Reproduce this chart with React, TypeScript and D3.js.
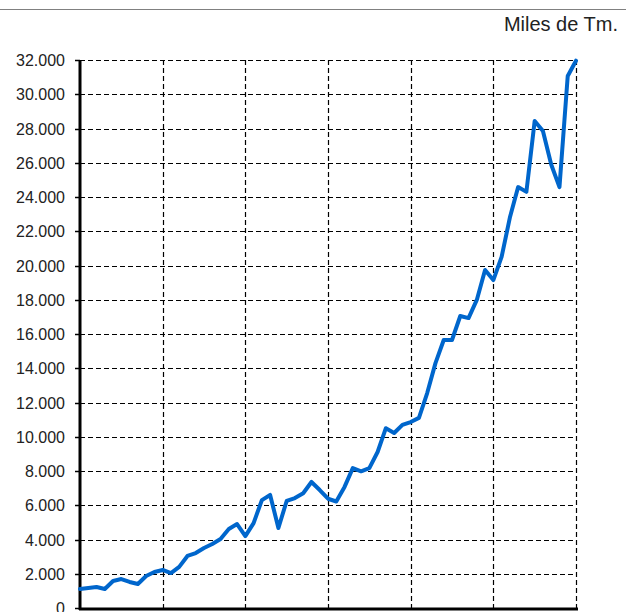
import React from "react";
import * as d3 from "d3";

const values: number[] = [
  1110, 1170, 1230, 1110, 1580, 1690, 1520, 1400, 1870, 2100,
  2220, 2040, 2400, 3040, 3210, 3500, 3740, 4030, 4610, 4900,
  4200, 4960, 6300, 6600, 4670, 6250, 6420, 6700, 7360, 6890,
  6380, 6220, 7070, 8170, 7980, 8170, 9110, 10500, 10220, 10690,
  10860, 11100, 12550, 14300, 15650, 15650, 17050, 16930, 17990, 19740,
  19150, 20500, 22800, 24580, 24300, 28440, 27850, 25900, 24580, 31070,
  31960,
];
const yTicks: number[] = d3.range(0, 32001, 2000);
const xGridCount = 6;
const unitLabel = "Miles de Tm.";

const fmt = (v: number) => {
  const s = String(v);
  return s.length > 3 ? s.slice(0, s.length - 3) + "." + s.slice(-3) : s;
};

export default function App() {
  const W = 632;
  const H = 612;
  const left = 80;
  const right = 576;
  const top = 60;
  const bottom = 608;
  const x = d3.scaleLinear().domain([0, values.length - 1]).range([left, right]);
  const y = d3.scaleLinear().domain([0, 32000]).range([bottom, top]);
  const line = d3
    .line<number>()
    .x((_, i) => x(i))
    .y((d) => y(d));
  const xGrid = d3.range(0, xGridCount + 1).map((k) => (k * (values.length - 1)) / xGridCount);

  return (
    <svg
      width={W}
      height={H}
      style={{ position: "absolute", left: 0, top: 0, background: "#fff" }}
    >
      <rect x={0} y={0} width={W} height={H} fill="#fff" />
      <line x1={0} x2={626} y1={9.5} y2={9.5} stroke="#808080" strokeWidth={1.2} />
      <text
        x={618}
        y={31}
        textAnchor="end"
        fontFamily="'Liberation Sans Narrow', 'Arial Narrow', 'Liberation Sans', Arial, sans-serif"
        fontSize={20}
        fill="#222"
      >
        {unitLabel}
      </text>
      {yTicks.map((t) => (
        <g key={t}>
          {t > 0 && (
            <line
              x1={left}
              x2={right}
              y1={Math.round(y(t)) + 0.5}
              y2={Math.round(y(t)) + 0.5}
              stroke="#000"
              strokeWidth={1.2}
              strokeDasharray="5,3"
            />
          )}
          <line x1={left - 5} x2={left} y1={Math.round(y(t)) + 0.5} y2={Math.round(y(t)) + 0.5} stroke="#000" strokeWidth={1.5} />
          <text
            x={65}
            y={y(t) + 6}
            textAnchor="end"
            fontFamily="'Liberation Sans', Arial, sans-serif"
            fontSize={16}
            fill="#222"
          >
            {fmt(t)}
          </text>
        </g>
      ))}
      {xGrid.slice(1).map((g) => (
        <line
          key={g}
          x1={Math.round(x(g)) + 0.5}
          x2={Math.round(x(g)) + 0.5}
          y1={top}
          y2={bottom}
          stroke="#000"
          strokeWidth={1.2}
          strokeDasharray="5,3"
        />
      ))}
      <line x1={left} x2={left} y1={top} y2={bottom + 2} stroke="#000" strokeWidth={3} />
      <line x1={left - 1} x2={right + 2} y1={bottom + 1} y2={bottom + 1} stroke="#000" strokeWidth={3} />
      <path
        d={line(values) || ""}
        fill="none"
        stroke="#0066CC"
        strokeWidth={4}
        strokeLinejoin="round"
        strokeLinecap="round"
      />
    </svg>
  );
}
